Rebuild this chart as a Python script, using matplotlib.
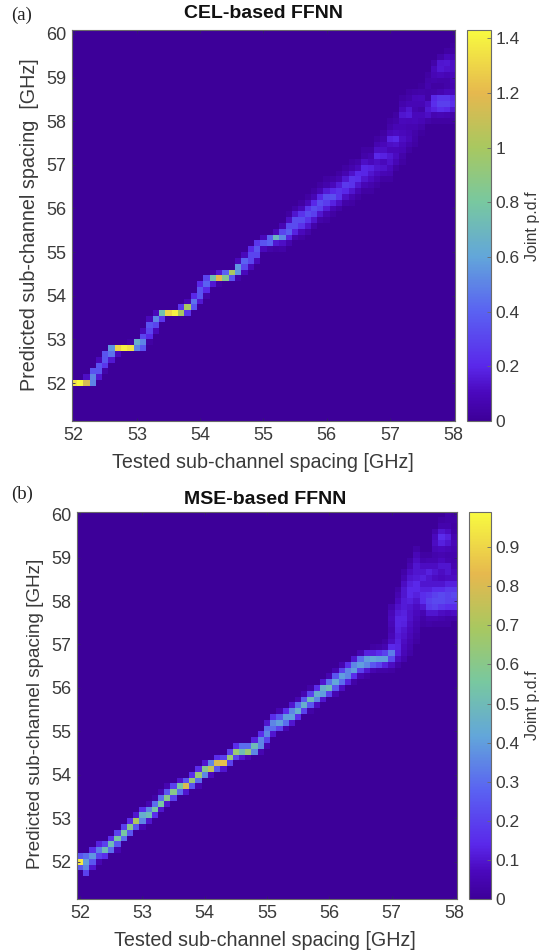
"""
Joint p.d.f maps for the CEL- and MSE-based FFNN
"""
import numpy as np
import matplotlib
matplotlib.use('Agg')
import matplotlib.pyplot as plt
from matplotlib.colors import LinearSegmentedColormap

W, H = 540, 952

X_TICKS = [52, 53, 54, 55, 56, 57, 58]
Y_TICKS = [52, 53, 54, 55, 56, 57, 58, 59, 60]
CEL_CBAR_TICKS = [0, 0.2, 0.4, 0.6, 0.8, 1, 1.2, 1.4]
MSE_CBAR_TICKS = [0, 0.1, 0.2, 0.3, 0.4, 0.5, 0.6, 0.7, 0.8, 0.9]
CEL_VMAX = 1.43
MSE_VMAX = 0.99

# bins: columns every 0.1 GHz from 52, rows every 0.8/6 GHz from 52
X_STEP = 0.1
Y_STEP = 0.8 / 6

# one entry per column: first non-zero row, then the cell values going up from it
CEL_START = [0, 0, 0, 0, 1, 2, 4, 5, 6, 6, 6, 6, 7, 9, 11, 12, 12, 12, 12, 13,
             14, 15, 17, 17, 18, 18, 18, 19, 20, 21, 23, 23, 23, 23, 24, 25, 25, 26, 27, 28,
             28, 29, 30, 31, 31, 32, 33, 33, 34, 35, 35, 37, 38, 40, 41, 43, 45, 45, 45, 45,
             45]
CEL_VALUES = [
    [1.35], [1.42], [1.15, .12], [.5, .5, .35], [.15, .35, .35, .1],
    [.05, .25, .35, .35], [.15, .45, .55], [.1, 1.3], [1.4], [1.35, .03],
    [.5, .65], [.35, .5, .3, .1], [.03, .2, .3, .35, .1], [.1, .3, .5, .1], [.25, .75],
    [1.3], [1.4], [1.0, .25], [.25, 1.0, .08], [.35, .45, .2],
    [.15, .35, .35, .2], [.05, .2, .4, .3], [.15, .75, .05], [.03, 1.2, .15], [.85, .4],
    [.35, 1.0], [.05, .55, .55, .1], [.1, .3, .4, .1], [.1, .3, .3, .2], [.1, .3, .35, .25],
    [.1, .35, .1], [.05, .4, .4], [.03, .15, .7, .1],
    [.04, .12, .5, .3, .08], [.06, .18, .38, .32, .12, .03],
    [.06, .18, .32, .32, .14, .04], [.03, .1, .24, .32, .24, .1, .03], [.05, .14, .24, .32, .24, .1, .03],
    [.05, .14, .28, .32, .2, .08, .03], [.05, .14, .28, .32, .2, .08, .03],
    [.03, .07, .16, .27, .32, .16, .06, .03], [.03, .08, .18, .34, .2, .1, .04], [.04, .12, .24, .24, .16, .07, .03],
    [.04, .12, .2, .26, .15, .07, .03],
    [.03, .07, .14, .24, .24, .13, .06, .03],
    [.03, .08, .14, .22, .2, .1, .05], [.03, .08, .14, .19, .19, .12, .05, .03], [.03, .06, .11, .14, .18, .1, .07, .03],
    [.03, .07, .11, .14, .12, .2, .12, .07, .03], [.03, .08, .13, .1, .18, .12, .09, .06, .03],
    [.03, .07, .1, .13, .15, .09, .12, .18, .09, .05, .03], [.03, .08, .11, .09, .13, .2, .11, .08, .05, .03],
    [.03, .05, .08, .1, .12, .1, .08, .1, .14, .1, .06, .03],
    [.03, .06, .09, .08, .07, .09, .16, .14, .08, .05, .03],
    [.03, .04, .05, .07, .1, .1, .07, .08, .09, .04], [.02, .05, .08, .1, .05, .08, .1, .05, .02],
    [.05, .12, .15, .12, .04, .04, .06, .05, .03], [.03, .07, .18, .22, .2, .05, .03, .06, .08, .1, .05],
    [.03, .08, .22, .28, .25, .07, .03, .05, .1, .15, .14, .05],
    [.03, .07, .2, .28, .25, .1, .05, .05, .08, .13, .15, .1, .03],
    [.03, .05, .15, .22, .2, .1, .07, .08, .1, .12, .12, .08, .03, .02],
]

MSE_START = [-1, -2, -1, 0, 1, 2, 2, 4, 5, 6, 6, 7, 8, 9, 10, 11, 12, 12, 13, 13,
             15, 15, 16, 16, 17, 18, 18, 18, 19, 19, 20, 22, 23, 23, 24, 25, 26, 26, 27, 28,
             29, 29, 30, 31, 31, 32, 32, 33, 33, 33, 33, 34, 35, 36, 38, 41, 41, 41, 41, 41,
             42]
MSE_VALUES = [
    [.25, .95, .25], [.2, .35, .4, .3], [.1, .25, .38, .15], [.05, .2, .33, .12], [.15, .5, .2],
    [.3, .5, .15], [.05, .25, .55, .2], [.3, .55, .2], [.25, .6, .15], [.25, .7, .1],
    [.05, .35, .45, .15], [.1, .5, .35, .05], [.15, .55, .3, .03], [.1, .55, .3, .05], [.1, .6, .25, .05],
    [.2, .6, .2], [.3, .55, .1], [.1, .8, .25], [.25, .65, .15], [.05, .3, .65, .15],
    [.35, .6, .1], [.07, .75, .35], [.25, .8, .15], [.1, .85, .2], [.2, .65, .2],
    [.2, .65, .15], [.1, .5, .3], [.05, .65, .3], [.35, .5, .12], [.05, .35, .35, .15],
    [.05, .2, .35, .3, .1], [.1, .3, .35, .15], [.2, .4, .25, .05], [.05, .3, .4, .15], [.1, .4, .35, .1],
    [.15, .45, .3, .05], [.2, .45, .25, .05], [.03, .25, .5, .2, .03], [.08, .35, .45, .15], [.1, .4, .45, .1],
    [.2, .5, .3, .05], [.05, .25, .42, .25, .05], [.08, .3, .4, .2, .05], [.12, .35, .35, .15], [.03, .15, .4, .35, .1],
    [.05, .2, .4, .3, .05], [.02, .1, .35, .4, .12], [.05, .25, .42, .12, .02], [.03, .2, .4, .15, .03],
    [.03, .12, .4, .2, .05, .02],
    [.02, .08, .22, .33, .14, .08, .06, .05, .06, .07, .06, .04],
    [.03, .08, .12, .13, .12, .11, .12, .13, .13, .11, .09, .07, .05, .03],
    [.04, .06, .07, .08, .09, .1, .12, .13, .12, .11, .11, .1, .1, .08, .05, .03],
    [.03, .04, .05, .06, .07, .08, .09, .09, .1, .12, .14, .14, .12, .1, .08, .05, .03],
    [.02, .03, .04, .05, .06, .07, .08, .1, .12, .14, .14, .11, .1, .1, .08, .06, .03],
    [.02, .03, .05, .1, .15, .15, .12, .1, .12, .1, .08, .04, .02],
    [.03, .05, .1, .18, .2, .17, .12, .1, .1, .12, .08, .05, .02],
    [.02, .05, .1, .2, .22, .2, .15, .1, .08, .1, .08, .05, .04, .06, .08, .07, .04],
    [.02, .04, .08, .17, .22, .22, .15, .1, .07, .08, .1, .07, .05, .07, .12, .15, .1, .04, .02],
    [.02, .03, .07, .15, .2, .2, .18, .12, .08, .1, .1, .05, .04, .06, .1, .12, .08, .04, .03, .03],
    [.03, .08, .15, .2, .22, .18, .12, .08, .07, .05, .04, .04, .05, .06, .05, .03, .02, .03, .02],
]

INK = '#3a3a3a'
SPINE = '#6a6a6a'
SANS = 'Liberation Sans'

# parula-like map, colours
CMAP = LinearSegmentedColormap.from_list('pdf', [
    (0.00, '#3d0099'), (0.07, '#4a08bd'), (0.14, '#5a28ea'), (0.28, '#5a62f2'),
    (0.42, '#62a6da'), (0.56, '#78c8a0'), (0.70, '#a8c860'), (0.84, '#e6b84e'),
    (1.00, '#f8fa40'),
])


def build_grid(start, values):
    """turn the per-column cells into a matrix, rows -8..62"""
    grid = np.zeros((71, len(values)))
    for col, (first, cells) in enumerate(zip(start, values)):
        for offset, v in enumerate(cells):
            grid[first + offset + 8, col] = v
    return grid


def px_axes(fig, left, top, right, bottom):
    return fig.add_axes([left / W, 1 - bottom / H, (right - left) / W, (bottom - top) / H])


def draw_panel(fig, box, cbar_box, xlim, ylim, start, values, vmax, cbar_ticks, cbar_labels):
    ax = px_axes(fig, *box)
    grid = build_grid(start, values)
    xs = 52 + X_STEP * np.arange(grid.shape[1])
    ys = 52 + Y_STEP * np.arange(-8, 63)
    mesh = ax.pcolormesh(xs, ys, grid, shading='nearest', cmap=CMAP, vmin=0, vmax=vmax,
                         rasterized=True, linewidth=0)
    ax.set_xlim(*xlim)
    ax.set_ylim(*ylim)
    ax.set_xticks(X_TICKS)
    ax.set_yticks(Y_TICKS)
    ax.tick_params(direction='in', length=2.5, width=0.6, color='#33206a', top=True, right=True,
                   labelsize=13, labelcolor=INK, pad=4)
    for s in ax.spines.values():
        s.set_color(SPINE)
        s.set_linewidth(0.8)

    cax = px_axes(fig, *cbar_box)
    cb = fig.colorbar(mesh, cax=cax)
    cb.set_ticks(cbar_ticks)
    cb.set_ticklabels(cbar_labels)
    cb.ax.tick_params(direction='in', length=3, width=0.6, color=SPINE, labelsize=12.5,
                      labelcolor=INK, pad=3.5)
    cb.outline.set_edgecolor(SPINE)
    cb.outline.set_linewidth(0.8)
    for t in ax.get_xticklabels() + ax.get_yticklabels() + cb.ax.get_yticklabels():
        t.set_family(SANS)
    return ax


def put(fig, x, y, s, **kw):
    kw.setdefault('family', SANS)
    kw.setdefault('color', INK)
    fig.text(x / W, 1 - y / H, s, ha='center', va='center', **kw)


fig = plt.figure(figsize=(W / 100, H / 100), dpi=100, facecolor='white')

draw_panel(fig, (71.5, 29.5, 455, 421), (467, 30, 491, 421),
           (51.965, 58.03), (51.13, 60.1), CEL_START, CEL_VALUES, CEL_VMAX,
           CEL_CBAR_TICKS, ['0', '0.2', '0.4', '0.6', '0.8', '1', '1.2', '1.4'])
draw_panel(fig, (77, 512, 457, 899), (469, 512, 491, 899),
           (51.95, 58.05), (51.14, 60.05), MSE_START, MSE_VALUES, MSE_VMAX,
           MSE_CBAR_TICKS, [str(t) for t in MSE_CBAR_TICKS])

put(fig, 264, 13, 'CEL-based FFNN', fontsize=14, fontweight='bold', color='#111111')
put(fig, 265, 499, 'MSE-based FFNN', fontsize=14, fontweight='bold', color='#111111')
put(fig, 263, 462, 'Tested sub-channel spacing [GHz]', fontsize=14.2)
put(fig, 265, 940, 'Tested sub-channel spacing [GHz]', fontsize=14.2)
put(fig, 30, 225, 'Predicted sub-channel spacing  [GHz]', fontsize=14.2, rotation=90)
put(fig, 36, 714, 'Predicted sub-channel spacing [GHz]', fontsize=13.6, rotation=90)
put(fig, 533, 226, 'Joint p.d.f', fontsize=11.5, rotation=90)
put(fig, 533, 705, 'Joint p.d.f', fontsize=11.5, rotation=90)
put(fig, 22, 15, '(a)', fontsize=13.5, family='Liberation Serif', color='#222222')
put(fig, 22, 494, '(b)', fontsize=13.5, family='Liberation Serif', color='#222222')

fig.savefig('out.png', dpi=100)
plt.close(fig)
